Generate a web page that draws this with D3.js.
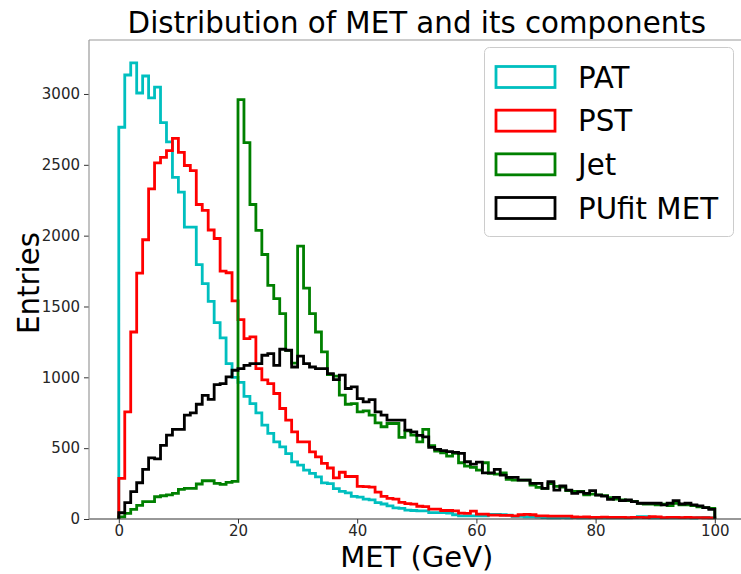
<!DOCTYPE html>
<html>
<head>
<meta charset="utf-8">
<script src="https://cdn.jsdelivr.net/npm/d3@7"></script>
<style>
  html, body { margin: 0; padding: 0; background: #fff; }
  svg { display: block; }
  text { font-family: "DejaVu Sans", sans-serif; }
</style>
</head>
<body>
<svg id="chart" width="741" height="574"></svg>
<script>
// ---- data (1 GeV bins, 0..100) ----
const binLow = d3.range(0, 100);          // lower edge of each bin (GeV)
const binWidth = 1;

const patValues = [2765,3134,3220,3007,3127,2972,3049,2798,2662,2412,
  2307,2060,2060,1795,1661,1536,1386,1278,1097,1000,
  965,866,815,749,662,604,545,509,462,403,
  380,345,322,298,255,250,215,195,185,160,
  155,140,135,115,106,92,78,75,63,60,
  58,58,45,45,45,42,30,22,22,22,
  22,22,33,33,30,28,18,18,16,15,
  14,10,8,8,10,8,10,9,9,10,
  9,8,9,8,9,8,10,16,16,9,
  8,8,9,8,8,8,7,10,12,8];

const pstValues = [287,756,1320,1736,1971,2330,2514,2553,2600,2687,
  2588,2495,2459,2220,2178,2040,1980,1750,1738,1540,
  1407,1273,1285,1062,982,956,886,780,698,615,
  545,545,474,439,392,360,290,330,300,300,
  230,228,225,190,160,145,140,118,108,105,
  90,88,70,70,60,60,58,42,40,55,
  35,35,28,28,25,26,22,30,33,30,
  22,22,21,21,20,20,14,13,14,12,
  12,13,12,11,12,10,12,11,10,16,
  15,10,12,11,10,11,10,10,9,8];

const jetValues = [15,40,68,96,122,122,157,164,170,181,
  209,216,216,247,270,270,251,245,258,265,
  2960,2657,2220,2037,1867,1649,1555,1449,1190,1100,
  1926,1630,1449,1320,1179,1020,1008,874,810,815,
  756,763,733,679,651,674,674,576,622,592,
  545,632,517,480,467,444,463,397,373,364,
  345,397,322,317,326,280,275,275,275,240,
  223,216,250,230,225,200,195,195,170,175,
  170,165,150,140,135,130,125,110,105,105,
  100,105,95,110,100,100,95,85,80,75];

const pufitValues = [44,115,193,256,350,432,425,519,592,632,
  632,733,749,810,872,845,949,956,1003,1050,
  1062,1085,1097,1097,1156,1167,1085,1198,1191,1073,
  1149,1097,1073,1062,1062,1026,984,1015,921,933,
  850,827,843,756,733,698,698,698,627,615,
  590,580,505,491,482,475,470,463,404,388,
  402,326,326,350,310,294,294,275,275,251,
  251,216,263,204,233,204,181,192,181,200,
  169,162,139,153,129,134,122,111,111,111,
  111,99,111,129,106,111,99,92,80,68];

const seriesNames  = ["PAT", "PST", "Jet", "PUfit MET"];
const seriesColors = ["#00bfbf", "#ff0000", "#008000", "#000000"];
const seriesValues = [patValues, pstValues, jetValues, pufitValues];

const xTicks = [0, 20, 40, 60, 80, 100];
const yTicks = [0, 500, 1000, 1500, 2000, 2500, 3000];

const titleText = "Distribution of MET and its components";
const xLabel = "MET (GeV)";
const yLabel = "Entries";

// ---- layout ----
const svg = d3.select("#chart");
const L = 89, R = 744.6, T = 40, B = 519;
const yMax = d3.max(seriesValues.flat()) * 1.05;

const x = d3.scaleLinear().domain([-5, 105]).range([L, R]);
const y = d3.scaleLinear().domain([0, yMax]).range([B, T]);

// title
svg.append("text")
  .attr("x", (L + R) / 2).attr("y", 33)
  .attr("text-anchor", "middle")
  .attr("font-size", 29.3).attr("fill", "#000")
  .text(titleText);

// histograms as step outlines
const line = d3.line().x(d => x(d[0])).y(d => y(d[1]));
seriesValues.forEach((vals, si) => {
  const pts = [[binLow[0], 0]];
  vals.forEach((v, i) => {
    pts.push([binLow[i], v]);
    pts.push([binLow[i] + binWidth, v]);
  });
  pts.push([binLow[binLow.length - 1] + binWidth, 0]);
  svg.append("path")
    .attr("d", line(pts))
    .attr("fill", "none")
    .attr("stroke", seriesColors[si])
    .attr("stroke-width", 2.8)
    .attr("stroke-linejoin", "miter")
    .attr("stroke-linecap", "butt");
});

// axes
const xAxis = svg.append("g").attr("transform", `translate(0,${B})`)
  .call(d3.axisBottom(x).tickValues(xTicks).tickSize(4.5).tickPadding(2).tickFormat(d3.format("d")));
const yAxis = svg.append("g").attr("transform", `translate(${L},0)`)
  .call(d3.axisLeft(y).tickValues(yTicks).tickSize(5).tickPadding(4).tickFormat(d3.format("d")));
[xAxis, yAxis].forEach(g => {
  g.select(".domain").remove();
  g.selectAll(".tick line").attr("stroke", "#333").attr("stroke-width", 1);
  g.selectAll(".tick text").attr("font-size", 15).attr("fill", "#262626")
    .attr("font-family", "DejaVu Sans, sans-serif");
});

// spines
svg.append("line").attr("x1", L).attr("x2", R).attr("y1", B).attr("y2", B)
  .attr("stroke", "#333").attr("stroke-width", 1.2);
svg.append("line").attr("x1", L).attr("x2", L).attr("y1", T).attr("y2", B)
  .attr("stroke", "#999").attr("stroke-width", 1.2);
svg.append("line").attr("x1", L).attr("x2", R).attr("y1", T).attr("y2", T)
  .attr("stroke", "#999").attr("stroke-width", 1.2);
svg.append("line").attr("x1", R).attr("x2", R).attr("y1", T).attr("y2", B)
  .attr("stroke", "#999").attr("stroke-width", 1.2);

// axis labels
svg.append("text")
  .attr("x", (L + R) / 2).attr("y", 566.5)
  .attr("text-anchor", "middle").attr("font-size", 29).attr("fill", "#000")
  .text(xLabel);
svg.append("text")
  .attr("transform", `translate(39,283) rotate(-90)`)
  .attr("text-anchor", "middle").attr("font-size", 29.3).attr("fill", "#000")
  .text(yLabel);

// legend
const lg = svg.append("g");
lg.append("rect")
  .attr("x", 484.5).attr("y", 47.5).attr("width", 249).attr("height", 189)
  .attr("rx", 5).attr("fill", "#fff").attr("fill-opacity", 0.8)
  .attr("stroke", "#ccc").attr("stroke-width", 1);
const rowY = d3.scalePoint().domain(seriesNames).range([77, 208]);
seriesNames.forEach((name, i) => {
  const cy = rowY(name);
  lg.append("rect")
    .attr("x", 496).attr("y", cy - 10.5).attr("width", 59).attr("height", 21)
    .attr("fill", "none").attr("stroke", seriesColors[i]).attr("stroke-width", 2.8);
  lg.append("text")
    .attr("x", 578).attr("y", cy + 10.5)
    .attr("font-size", 29.3).attr("fill", "#000")
    .text(name);
});
</script>
</body>
</html>
